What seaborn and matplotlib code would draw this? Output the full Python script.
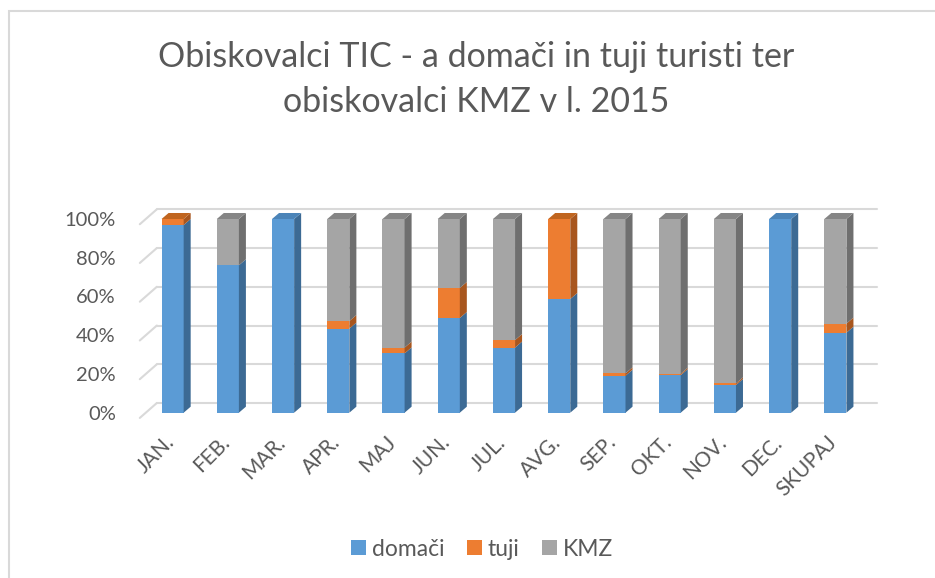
import numpy as np
import pandas as pd
import seaborn as sns
import matplotlib.pyplot as plt
import matplotlib.transforms as mtransforms
from matplotlib.patches import Polygon, Rectangle

# podatki (delež v %)
meseci = ['JAN.', 'FEB.', 'MAR.', 'APR.', 'MAJ', 'JUN.', 'JUL.', 'AVG.',
          'SEP.', 'OKT.', 'NOV.', 'DEC.', 'SKUPAJ']
domaci = [96.9, 76.1, 100.0, 43.4, 30.6, 48.9, 33.6, 58.7, 19.1, 19.4, 14.3, 100.0, 41.3]
tuji = [3.1, 0.0, 0.0, 3.9, 3.0, 15.5, 3.9, 41.3, 1.2, 0.7, 0.8, 0.0, 4.7]
kmz = [0.0, 23.9, 0.0, 52.7, 66.4, 35.6, 62.5, 0.0, 79.7, 79.9, 84.9, 0.0, 54.0]
y_ticks = [0, 20, 40, 60, 80, 100]

sns.set_style("white")
plt.rcParams['font.family'] = ['Lato', 'DejaVu Sans']
siva = '#595959'

barve = {'domači': '#5B9BD5', 'tuji': '#ED7D31', 'KMZ': '#A5A5A5'}
stranske = {'domači': '#3C6A94', 'tuji': '#A8561E', 'KMZ': '#6F6F6F'}
zgornje = {'domači': '#4B84B8', 'tuji': '#C0651F', 'KMZ': '#858585'}

df = pd.DataFrame({'mesec': meseci, 'domači': domaci, 'tuji': tuji, 'KMZ': kmz})
df['c1'] = df['domači']
df['c2'] = df['c1'] + df['tuji']
df['c3'] = df['c2'] + df['KMZ']

fig = plt.figure(figsize=(9.35, 5.78), dpi=100)
ax = fig.add_axes([145 / 935, 165.3 / 578, 718 / 935, 193.7 / 578])

# okvir grafa
fig.patches.append(Rectangle((9 / 935, -0.1), 1.2, 1.1 - 11 / 578, transform=fig.transFigure,
                             fill=False, edgecolor='#D9D9D9', linewidth=1.5))

sirina = 0.4
dx, dy = 0.127, 3.1

# naložene stolpce (od zgoraj navzdol)
for col, ime in [('c3', 'KMZ'), ('c2', 'tuji'), ('c1', 'domači')]:
    sns.barplot(data=df, x='mesec', y=col, color=barve[ime], width=sirina,
                saturation=1, ax=ax, zorder=3, linewidth=0)

# 3D stranske in zgornje ploskve
spodaj = np.zeros(len(meseci))
for ime, vrednosti in [('domači', domaci), ('tuji', tuji), ('KMZ', kmz)]:
    for i, v in enumerate(vrednosti):
        if v <= 0:
            continue
        b, t = spodaj[i], spodaj[i] + v
        xr = i + sirina / 2
        ax.add_patch(Polygon([(xr, b), (xr + dx, b + dy), (xr + dx, t + dy), (xr, t)],
                             closed=True, facecolor=stranske[ime], edgecolor='none',
                             zorder=3, clip_on=False))
        if t >= 99.9:
            xl = i - sirina / 2
            ax.add_patch(Polygon([(xl, t), (xl + dx, t + dy), (xr + dx, t + dy), (xr, t)],
                                 closed=True, facecolor=zgornje[ime], edgecolor='none',
                                 zorder=3, clip_on=False))
    spodaj += np.array(vrednosti)

# mreža na zadnji steni
for v in y_ticks:
    ax.plot([-0.594, -0.286], [v - 2.7, v + 5], color='#D9D9D9', lw=1.5, zorder=1, clip_on=False)
    ax.plot([-0.286, 12.76], [v + 5, v + 5], color='#D9D9D9', lw=1.5, zorder=1, clip_on=False)

ax.set_xlim(-0.5, 12.5)
ax.set_ylim(0, 100)
ax.set_yticks(y_ticks)
ax.set_yticklabels([f'{v}%' for v in y_ticks], fontsize=14.5, color=siva)
ax.set_xticks(range(len(meseci)))
ax.set_xticklabels(meseci, rotation=45, ha='right', va='top', rotation_mode='anchor',
                   fontsize=15, color=siva)
ax.tick_params(axis='x', length=0, pad=14)
ax.tick_params(axis='y', length=0, pad=21)
premik = mtransforms.ScaledTranslation(-6 / 72, 0, fig.dpi_scale_trans)
for lbl in ax.get_xticklabels():
    lbl.set_transform(lbl.get_transform() + premik)
ax.set_xlabel('')
ax.set_ylabel('')
for s in ax.spines.values():
    s.set_visible(False)
ax.grid(False)

# naslov
fig.text(476.5 / 935, 1 - 67 / 578, 'Obiskovalci TIC - a domači in tuji turisti ter',
         ha='center', va='baseline', fontsize=24.5, color=siva)
fig.text(476.5 / 935, 1 - 112 / 578, 'obiskovalci KMZ v l. 2015',
         ha='center', va='baseline', fontsize=24.5, color=siva)

# legenda
rocke = [Rectangle((0, 0), 1, 1, facecolor=barve[k], edgecolor='none') for k in barve]
fig.legend(rocke, list(barve.keys()), loc='center', bbox_to_anchor=(482 / 935, 1 - 549 / 578),
           ncol=3, frameon=False, fontsize=16.5, labelcolor=siva, handlelength=0.65,
           handleheight=0.65, handletextpad=0.25, columnspacing=1.0)

fig.savefig('out.png', dpi=100)
